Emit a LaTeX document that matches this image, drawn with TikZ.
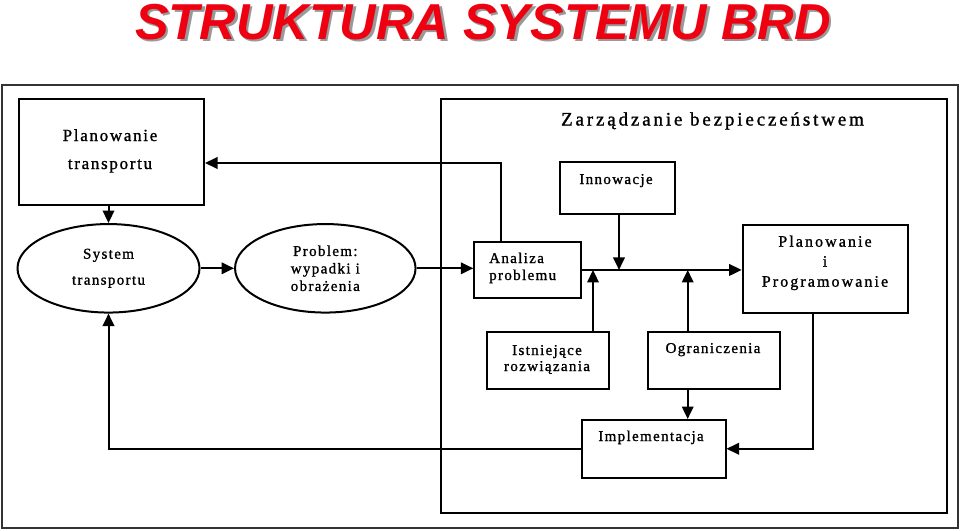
\documentclass[tikz,border=0pt]{standalone}
\usepackage{fontspec}
\setmainfont{Liberation Serif}
\newfontfamily\boxfont[LetterSpace=9,FakeBold=1.2]{Liberation Serif}
\newfontfamily\wideboxfont[LetterSpace=13,FakeBold=1.2]{Liberation Serif}
\newfontfamily\headfont[LetterSpace=15,FakeBold=1.2]{Liberation Serif}
\newfontfamily\titlefont{Liberation Sans}
\usetikzlibrary{arrows.meta,shapes.geometric}
\definecolor{titlered}{HTML}{EE0011}
\definecolor{framegray}{HTML}{333333}
\tikzset{
  box/.style={draw, line width=2pt, rectangle, inner sep=0pt, anchor=north west},
  oval/.style={draw, line width=2pt, ellipse, inner sep=0pt, align=center,
    font={\boxfont\fontsize{15}{17.5}\selectfont}},
  txt/.style={anchor=base, inner sep=0pt, font={\boxfont\fontsize{15}{18}\selectfont}},
  bigtxt/.style={anchor=base, inner sep=0pt, font={\boxfont\addfontfeatures{LetterSpace=10}\fontsize{17}{20}\selectfont}},
  widetxt/.style={anchor=base, inner sep=0pt, font={\wideboxfont\fontsize{16}{20}\selectfont}},
  conn/.style={line width=2pt},
  arr/.style={conn, -{Triangle[length=12.5pt,width=11.5pt]}},
}
\begin{document}
\begin{tikzpicture}[x=1pt,y=-1pt]
\useasboundingbox (0,0) rectangle (960,530);
% title
\node[inner sep=0pt, text=black!40, font={\titlefont\bfseries\itshape\fontsize{50.5}{52}\selectfont}] (titleshadow) at (485.5,24.5) {STRUKTURA SYSTEMU BRD};
\node[inner sep=0pt, text=titlered, font={\titlefont\bfseries\itshape\fontsize{50.5}{52}\selectfont}] (title) at (483,22) {STRUKTURA SYSTEMU BRD};
% frames
\node[box, draw=framegray, line width=2pt, minimum width=956pt, minimum height=443pt] (outer) at (1,84) {};
\node[box, minimum width=506pt, minimum height=414pt] (inner) at (440,98) {};
\node[anchor=base, inner sep=0pt, font={\headfont\fontsize{19}{22}\selectfont}] (head) at (712.5,125.5) {Zarządzanie bezpieczeństwem};
% boxes
\node[box, minimum width=185pt, minimum height=106pt] (pt) at (18,97.5) {};
\node[bigtxt] (ptA) at (110,141) {Planowanie};
\node[bigtxt] (ptB) at (110,169) {transportu};

\node[oval, minimum width=182pt, minimum height=88.5pt] (sys) at (108.5,268.3) {System\\[8.5pt]transportu};
\node[oval, minimum width=180.5pt, minimum height=88.5pt] (prob) at (325.3,268.3) {Problem:\\wypadki i\\obrażenia};

\node[box, minimum width=107pt, minimum height=56.5pt] (an) at (473.3,240.7) {};
\node[txt, anchor=base west] (anA) at (489,263) {Analiza};
\node[txt, anchor=base west] (anB) at (489,280) {problemu};

\node[box, minimum width=115pt, minimum height=52pt] (inn) at (559,161) {};
\node[txt] (innT) at (616,184) {Innowacje};

\node[box, minimum width=165pt, minimum height=88.3pt] (pp) at (741.7,224) {};
\node[widetxt] (ppA) at (825,246.7) {Planowanie};
\node[widetxt] (ppB) at (825,266.7) {i};
\node[widetxt] (ppC) at (825,286.7) {Programowanie};

\node[box, minimum width=122pt, minimum height=56.5pt] (ist) at (485.5,331) {};
\node[txt] (istA) at (547,355) {Istniejące};
\node[txt] (istB) at (547,371) {rozwiązania};

\node[box, minimum width=132pt, minimum height=56.5pt] (ogr) at (647,331) {};
\node[txt] (ogrT) at (713,353) {Ograniczenia};

\node[box, minimum width=144pt, minimum height=57.5pt] (impl) at (580.5,419) {};
\node[txt] (implT) at (651,441) {Implementacja};

% connectors
\draw[arr] (pt.south -| sys.north) -- (sys.north);
\draw[arr] (sys.east) -- (prob.west);
\draw[arr] (prob.east) -- (prob.east -| an.west);
\draw[arr] ([xshift=-26.5pt]an.north) |- ([yshift=-11.5pt]pt.east);
\draw[arr] (an.east) -- (an.east -| pp.west);
\draw[arr] ([xshift=1.5pt]inn.south) -- ([xshift=1.5pt]inn.south |- an.east);
\draw[arr] ([xshift=45.5pt]ist.north) -- ([xshift=45.5pt]ist.north |- an.east);
\draw[arr] ([xshift=-26.3pt]ogr.north) -- ([xshift=-26.3pt]ogr.north |- an.east);
\draw[arr] ([xshift=-26.3pt]ogr.south) -- ([xshift=-26.3pt]ogr.south |- impl.north);
\draw[arr] ([xshift=-12.5pt]pp.south) |- (impl.east);
\draw[arr] (impl.west) -| (sys.south);
\end{tikzpicture}
\end{document}
